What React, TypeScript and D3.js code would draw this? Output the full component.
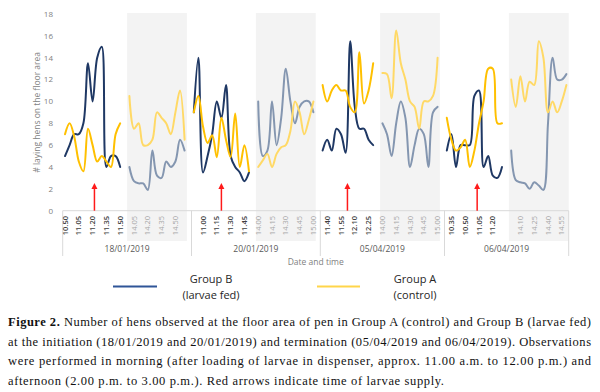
import React from "react";
import * as d3 from "d3";

// observation days (one panel each)
const dates = ["18/01/2019", "20/01/2019", "05/04/2019", "06/04/2019"];

// morning observation times per day (5 min steps)
const morningTimes = [
  ["10.50", "10.55", "11.00", "11.05", "11.10", "11.15", "11.20", "11.25", "11.30", "11.35", "11.40", "11.45", "11.50"],
  ["10.50", "10.55", "11.00", "11.05", "11.10", "11.15", "11.20", "11.25", "11.30", "11.35", "11.40", "11.45", "11.50"],
  ["11.35", "11.40", "11.45", "11.50", "11.55", "12.00", "12.05", "12.10", "12.15", "12.20", "12.25", "12.30"],
  ["10.30", "10.35", "10.40", "10.45", "10.50", "10.55", "11.00", "11.05", "11.10", "11.15", "11.20", "11.25", "11.30"],
];
const afternoonTimes = ["14.00", "14.05", "14.10", "14.15", "14.20", "14.25", "14.30", "14.35", "14.40", "14.45", "14.50", "14.55", "15.00"];
// empty categories left at the end of each day on the axis
const trailingSlots = [1, 1, 1, 0];

// Group B (larvae fed)
const groupBMorning = [
  [5, 6, 7, 7, 8, 13.5, 10, 14, 15, 4, 5, 5, 4],
  [9, 14, 3.5, 5, 7, 10, 8.5, 11.5, 5, 4, 3.5, 2.7, 3.5],
  [5.5, 6.5, 5.5, 7.5, 7, 5.3, 15.5, 9.5, 7.5, 7.5, 6.5, 6],
  [5.5, 7, 4, 6, 6, 6, 10.5, 11, 4, 5, 3.2, 3, 4],
];
const groupBAfternoon = [
  [4, 2.7, 2.5, 2.5, 1.9, 5.5, 3.2, 3, 4.5, 4, 4.5, 6.5, 5.5],
  [10, 5, 5.5, 10, 6, 8.5, 13, 10, 8, 9.5, 10, 10, 9],
  [8, 7, 5, 8, 10, 8.5, 4, 6, 7.5, 7, 4, 9, 9.5],
  [5.5, 2.8, 2.6, 2.5, 2, 2.6, 2.3, 1.9, 8, 14, 12, 12, 12.5],
];

// Group A (control)
const groupAMorning = [
  [7, 8, 6.8, 4.5, 3.6, 7.5, 6, 4.5, 5, 4.5, 4, 7, 8],
  [9, 10.5, 7.7, 6.2, 6.9, 4.9, 8.5, 6.5, 4.9, 8.9, 4, 6, 3.6],
  [11.5, 10, 11, 11.5, 11, 11, 9.5, 9, 14.5, 9.8, 11, 13.5],
  [8.5, 6.5, 5.5, 5.8, 6.5, 4, 5.5, 8, 10, 13, 13, 8, 8],
];
const groupAAfternoon = [
  [10.5, 7.5, 8, 6, 6, 6.5, 9, 8.5, 8, 7, 9, 11, 6.5],
  [4, 4.6, 5.2, 4, 5.2, 5.8, 6, 7.3, 10, 9, 7, 8.3, 10],
  [12.6, 12.5, 10.3, 16.5, 13.5, 12, 10, 9.5, 7.5, 10, 10, 10.5, 14],
  [12, 9.5, 12.3, 10, 11.8, 11.5, 15.5, 14, 9, 10, 9, 10, 11.5],
];

// larvae supply times (red arrows)
const arrowTimes = ["11.22", "11.20", "12.02", "11.03"];

const yTicks = [0, 2, 4, 6, 8, 10, 12, 14, 16, 18];

const captionLines = [
  "Number of hens observed at the floor area of pen in Group A (control) and Group B (larvae fed)",
  "at the initiation (18/01/2019 and 20/01/2019) and termination (05/04/2019 and 06/04/2019). Observations",
  "were performed in morning (after loading of larvae in dispenser, approx. 11.00 a.m. to 12.00 p.m.) and",
  "afternoon (2.00 p.m. to 3.00 p.m.). Red arrows indicate time of larvae supply.",
];

const W = 600,
  H = 392;
const plotLeft = 62.7,
  plotRight = 568.7,
  plotTop = 14,
  plotBottom = 210.7;
const chartFont = "'Open Sans', 'Noto Sans', sans-serif";
const serif = "'Liberation Serif', 'DejaVu Serif', serif";

type Slot = { key: string; panel: number; time: string | null; session: string | null };

const slots: Slot[] = [];
dates.forEach((d, p) => {
  morningTimes[p].forEach((t) => slots.push({ key: p + "|am|" + t, panel: p, time: t, session: "am" }));
  slots.push({ key: p + "|gap", panel: p, time: null, session: null });
  afternoonTimes.forEach((t) => slots.push({ key: p + "|pm|" + t, panel: p, time: t, session: "pm" }));
  for (let i = 0; i < trailingSlots[p]; i++) slots.push({ key: p + "|end" + i, panel: p, time: null, session: null });
});

const x = d3
  .scaleBand<string>()
  .domain(slots.map((s) => s.key))
  .range([plotLeft, plotRight])
  .padding(0);
const bw = x.bandwidth();
const cx = (key: string) => (x(key) as number) + bw / 2;

const y = d3.scaleLinear().domain([0, 18]).range([plotBottom, plotTop]);

const line = d3
  .line<[number, number]>()
  .x((d) => d[0])
  .y((d) => d[1])
  .curve(d3.curveCatmullRom.alpha(0.5));

function seriesPath(p: number, session: string, times: string[], vals: number[]) {
  const pts: [number, number][] = vals.map((v, i) => [cx(p + "|" + session + "|" + times[i]), y(v)]);
  return line(pts) || "";
}

function arrowX(p: number, t: string) {
  const [h, m] = t.split(".").map(Number);
  const base = m - (m % 5);
  const key = p + "|am|" + h + "." + String(base).padStart(2, "0");
  return cx(key) + ((m % 5) / 5) * bw;
}

export default function App() {
  const panelRange = dates.map((d, p) => {
    const ks = slots.filter((s) => s.panel === p);
    return [x(ks[0].key) as number, (x(ks[ks.length - 1].key) as number) + bw];
  });
  const pmRange = dates.map((d, p) => {
    const ks = slots.filter((s) => s.panel === p && s.session === "pm");
    return [x(ks[0].key) as number, (x(ks[ks.length - 1].key) as number) + bw];
  });
  const boundaries = [plotLeft, ...panelRange.map((r) => r[1])];

  return (
    <svg
      width={W}
      height={H}
      style={{ position: "absolute", left: 0, top: 0, background: "#fff" }}
    >
      {/* afternoon shading */}
      {pmRange.map((r, p) => (
        <rect key={"sh" + p} x={r[0]} y={13} width={r[1] - r[0]} height={241 - 13} fill="#f3f3f3" />
      ))}

      {/* y axis labels */}
      {yTicks.map((t) => (
        <text
          key={"yt" + t}
          x={53}
          y={y(t)}
          dy="0.35em"
          textAnchor="end"
          fontSize={8}
          fill="#7f7f7f"
          fontFamily={chartFont}
        >
          {t}
        </text>
      ))}
      <text
        transform={`translate(37,${(plotTop + plotBottom) / 2}) rotate(-90)`}
        textAnchor="middle"
        dy="0.35em"
        fontSize={8.5}
        fill="#7f7f7f"
        fontFamily={chartFont}
      >
        # laying hens on the floor area
      </text>

      {/* x axis */}
      <line x1={plotLeft} x2={plotRight} y1={plotBottom} y2={plotBottom} stroke="#d9d9d9" />
      {boundaries.map((b, i) => (
        <line key={"bd" + i} x1={b} x2={b} y1={plotBottom} y2={256} stroke="#d9d9d9" />
      ))}
      {slots.map((s, i) =>
        s.time && i % 3 === 0 ? (
          <text
            key={"xt" + i}
            transform={`translate(${cx(s.key)},216) rotate(-90)`}
            textAnchor="end"
            dy="0.35em"
            fontSize={7.5}
            fontWeight={s.session === "am" ? 600 : 400}
            fill={s.session === "am" ? "#404040" : "#a6a6a6"}
            fontFamily={chartFont}
          >
            {s.time}
          </text>
        ) : null
      )}
      {dates.map((d, p) => (
        <text
          key={"dt" + p}
          x={(panelRange[p][0] + panelRange[p][1]) / 2}
          y={252}
          textAnchor="middle"
          fontSize={8.5}
          fill="#595959"
          fontFamily={chartFont}
        >
          {d}
        </text>
      ))}
      <text
        x={(plotLeft + plotRight) / 2}
        y={265}
        textAnchor="middle"
        fontSize={8.5}
        fill="#7f7f7f"
        fontFamily={chartFont}
      >
        Date and time
      </text>

      {/* series */}
      {dates.map((d, p) => (
        <g key={"s" + p} fill="none" strokeWidth={2} strokeLinejoin="round" strokeLinecap="round">
          <path d={seriesPath(p, "pm", afternoonTimes, groupBAfternoon[p])} stroke="#8496b0" />
          <path d={seriesPath(p, "pm", afternoonTimes, groupAAfternoon[p])} stroke="#ffd966" />
          <path d={seriesPath(p, "am", morningTimes[p], groupBMorning[p])} stroke="#1f3864" />
          <path d={seriesPath(p, "am", morningTimes[p], groupAMorning[p])} stroke="#ffc000" />
        </g>
      ))}

      {/* larvae supply arrows */}
      {arrowTimes.map((t, p) => {
        const ax = arrowX(p, t);
        return (
          <g key={"ar" + p}>
            <line x1={ax} x2={ax} y1={plotBottom} y2={188} stroke="#ff1a1a" strokeWidth={1.5} />
            <path d={`M${ax - 3},${189} L${ax},${183} L${ax + 3},${189} Z`} fill="#ff1a1a" />
          </g>
        );
      })}

      {/* legend */}
      <line x1={113} x2={157} y1={286.5} y2={286.5} stroke="#2f5597" strokeWidth={2} />
      <text x={211} y={283} textAnchor="middle" fontSize={11} fill="#262626" fontFamily={chartFont}>
        Group B
      </text>
      <text x={211} y={299} textAnchor="middle" fontSize={11} fill="#262626" fontFamily={chartFont}>
        (larvae fed)
      </text>
      <line x1={317} x2={360} y1={286.5} y2={286.5} stroke="#ffd54a" strokeWidth={2} />
      <text x={415} y={283} textAnchor="middle" fontSize={11} fill="#262626" fontFamily={chartFont}>
        Group A
      </text>
      <text x={415} y={299} textAnchor="middle" fontSize={11} fill="#262626" fontFamily={chartFont}>
        (control)
      </text>

      {/* caption */}
      <text x={8} y={326} fontSize={12.5} fill="#111" fontFamily={serif} textLength={583} lengthAdjust="spacing">
        <tspan fontWeight="bold">Figure 2.</tspan> {captionLines[0]}
      </text>
      <text x={8} y={345.5} fontSize={12.5} fill="#111" fontFamily={serif} textLength={583} lengthAdjust="spacing">
        {captionLines[1]}
      </text>
      <text x={8} y={365} fontSize={12.5} fill="#111" fontFamily={serif} textLength={583} lengthAdjust="spacing">
        {captionLines[2]}
      </text>
      <text x={8} y={384.5} fontSize={12.5} fill="#111" fontFamily={serif} textLength={436} lengthAdjust="spacing">
        {captionLines[3]}
      </text>
    </svg>
  );
}
